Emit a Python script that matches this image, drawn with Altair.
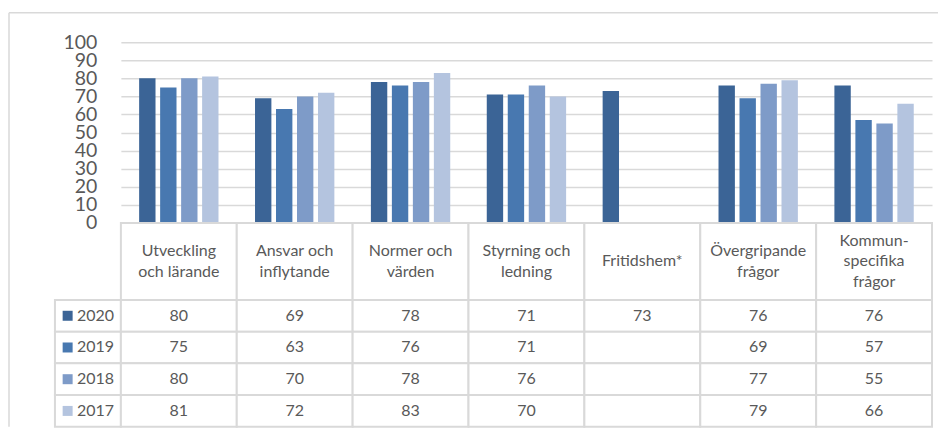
import altair as alt
import pandas as pd

# ---------------- data ----------------
categories = ["Utveckling och lärande", "Ansvar och inflytande", "Normer och värden",
              "Styrning och ledning", "Fritidshem*", "Övergripande frågor",
              "Kommun-specifika frågor"]
header_lines = [["Utveckling", "och lärande"], ["Ansvar och", "inflytande"],
                ["Normer och", "värden"], ["Styrning och", "ledning"], ["Fritidshem*"],
                ["Övergripande", "frågor"], ["Kommun-", "specifika", "frågor"]]
years = ["2020", "2019", "2018", "2017"]
v2020 = [80, 69, 78, 71, 73, 76, 76]
v2019 = [75, 63, 76, 71, None, 69, 57]
v2018 = [80, 70, 78, 76, None, 77, 55]
v2017 = [81, 72, 83, 70, None, 79, 66]
colors = ["#3B6496", "#4878B0", "#7E9BC8", "#B4C4DF"]
y_ticks = [0, 10, 20, 30, 40, 50, 60, 70, 80, 90, 100]

# ---------------- style ----------------
FONT = "Lato"
TEXT = "#595959"
LINE = "#D9D9D9"
PLOT_W = 812
LEG_W = 66
BAR_H = 181
HDR_H = 77
BODY_H = 127
LH = 20.5

rows = []
for yr, vals in zip(years, [v2020, v2019, v2018, v2017]):
    for c, v in zip(categories, vals):
        rows.append({"cat": c, "year": yr, "value": v})
df = pd.DataFrame(rows)
hdr = pd.DataFrame({"cat": categories, "label": header_lines,
                    "n": [len(l) for l in header_lines]})
leg = pd.DataFrame({"year": years, "color": colors})
one = pd.DataFrame({"a": [0]})


def x_cat():
    return alt.X("cat:N", sort=categories,
                 scale=alt.Scale(domain=categories, paddingInner=0, paddingOuter=0),
                 axis=None)


def y_year():
    return alt.Y("year:N", sort=years,
                 scale=alt.Scale(domain=years, paddingInner=0, paddingOuter=0),
                 axis=None)


# ---- cell (0,0): outer frame (decoration) ----
frame_left = alt.Chart(one).mark_rule(color=LINE, strokeWidth=1.5).encode(
    x=alt.value(-46), y=alt.value(-29.5), y2=alt.value(385))
frame_top = alt.Chart(one).mark_rule(color=LINE, strokeWidth=1.5).encode(
    x=alt.value(-46), x2=alt.value(884), y=alt.value(-29.5))
frame_cell = alt.layer(frame_left, frame_top).properties(width=LEG_W, height=BAR_H)

# ---- cell (0,1): bars ----
bars = alt.Chart(df).mark_bar().encode(
    x=x_cat(),
    xOffset=alt.XOffset("year:N", sort=years,
                        scale=alt.Scale(domain=years, paddingInner=0.22, paddingOuter=0.87)),
    y=alt.Y("value:Q", scale=alt.Scale(domain=[0, 100], nice=False),
            axis=alt.Axis(values=y_ticks, title=None, labelFont=FONT, labelFontSize=19.5,
                          labelColor=TEXT, labelPadding=24, ticks=False, domain=False,
                          labelOverlap=False, gridColor=LINE, gridWidth=1.5)),
    color=alt.Color("year:N", scale=alt.Scale(domain=years, range=colors), legend=None),
).properties(width=PLOT_W, height=BAR_H)

# ---- cell (1,0): empty ----
empty_cell = alt.Chart(one).mark_text(text="").properties(width=LEG_W, height=HDR_H)

# ---- cell (1,1): header row ----
hdr_rect = alt.Chart(hdr).mark_rect(fill="white", stroke=LINE, strokeWidth=2).encode(x=x_cat())
hdr_layers = [hdr_rect]
for n in (1, 2, 3):
    hdr_layers.append(
        alt.Chart(hdr).transform_filter(f"datum.n == {n}").mark_text(
            font=FONT, fontSize=16, color=TEXT, lineHeight=LH, baseline="middle",
            dy=-(n - 1) * LH / 2).encode(x=x_cat(), text="label"))
header = alt.layer(*hdr_layers).properties(width=PLOT_W, height=HDR_H)

# ---- cell (2,0): legend column ----
leg_rect = alt.Chart(leg).mark_rect(fill="white", stroke=LINE, strokeWidth=2).encode(y=y_year())
leg_sq = alt.Chart(leg).mark_square(size=100, opacity=1).encode(
    x=alt.value(12.7), y=y_year(), color=alt.Color("color:N", scale=None))
leg_txt = alt.Chart(leg).mark_text(font=FONT, fontSize=16, color=TEXT, align="left",
                                   baseline="middle").encode(
    x=alt.value(22), y=y_year(), text="year:N")
legend_col = alt.layer(leg_rect, leg_sq, leg_txt).properties(width=LEG_W, height=BODY_H)

# ---- cell (2,1): table body ----
body_rect = alt.Chart(df).mark_rect(fill="white", stroke=LINE, strokeWidth=2).encode(
    x=x_cat(), y=y_year())
body_txt = alt.Chart(df).transform_filter("isValid(datum.value)").mark_text(
    font=FONT, fontSize=16, color=TEXT, baseline="middle").encode(
    x=x_cat(), y=y_year(), text=alt.Text("value:Q", format="d"))
body = alt.layer(body_rect, body_txt).properties(width=PLOT_W, height=BODY_H)

chart = alt.concat(frame_cell, bars, empty_cell, header, legend_col, body,
                   columns=2, spacing=0, bounds="flush", align="each",
                   padding={"left": 0, "top": 3, "right": 0, "bottom": 0},
                   background="white"
                   ).configure_view(strokeWidth=0)

chart.save("out.html", embed_options={"renderer": "svg", "actions": False})
